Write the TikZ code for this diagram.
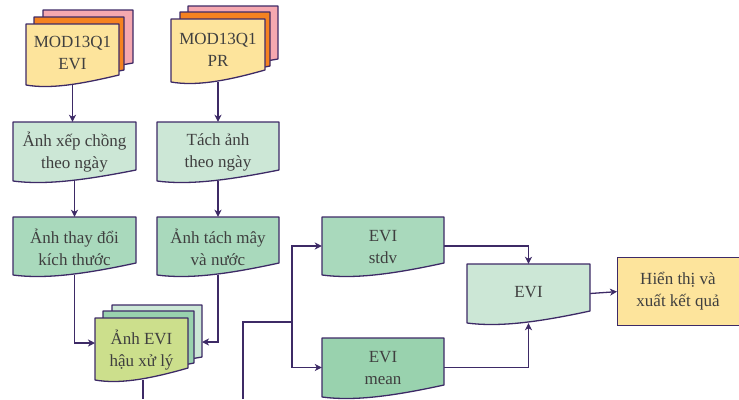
\documentclass[tikz,border=0pt]{standalone}
\usepackage{fontspec}
\setmainfont{Liberation Serif}
\usetikzlibrary{arrows.meta,fit}
\definecolor{bord}{HTML}{3D2A66}
\definecolor{txtc}{HTML}{3F3F3F}
\definecolor{yel}{HTML}{FDE49C}
\definecolor{ora}{HTML}{F58220}
\definecolor{pnk}{HTML}{F5A8B0}
\definecolor{lgreen}{HTML}{CCE7D6}
\definecolor{mgreen}{HTML}{A9D9BC}
\definecolor{dgreen}{HTML}{99D2AE}
\definecolor{lime}{HTML}{CCDF8C}
\pgfdeclarelayer{bg}\pgfsetlayers{bg,main}
\tikzset{
  docline/.style={draw=bord,line width=1.3pt,line join=round},
  lbl/.style={text=txtc,align=center,font=\fontsize{17}{22}\selectfont,inner sep=0pt},
  conn/.style={draw=bord,line width=1.3pt,-{Stealth[length=7pt,width=7pt,inset=2pt]}},
  plain/.style={draw=bord,line width=1.3pt}
}
% name, x0, y0, x1, y-right-bottom, y-left-bottom, fill
\newcommand\docbox[7]{%
  \filldraw[docline,fill=#7] (#2,#3) -- (#4,#3) -- (#4,#5)
    .. controls ({#2+0.55*(#4-#2)},{#6}) and ({#2+0.25*(#4-#2)},{#6+4}) .. (#2,#6) -- cycle;
  \node[fit={(#2,#3) (#4,#6)},inner sep=0pt] (#1) {};}
\begin{document}
\begin{tikzpicture}[x=1pt,y=-1pt]
\useasboundingbox (0,0) rectangle (739,399);
\clip (0,0) rectangle (739,399);
% MOD13Q1 EVI stack
\docbox{eviC}{43}{10}{133}{63}{70}{pnk}
\docbox{eviB}{34}{17}{124}{70}{78}{ora}
\docbox{evi}{26}{24}{119}{75}{85}{yel}
\node[lbl] (eviT) at ([yshift=2pt]evi.center) {MOD13Q1\\EVI};
% MOD13Q1 PR stack
\docbox{prC}{188}{6}{278}{59}{66}{pnk}
\docbox{prB}{180}{12}{270}{66}{74}{ora}
\docbox{pr}{171}{19}{265}{70}{82}{yel}
\node[lbl] (prT) at ([yshift=1pt]pr.center) {MOD13Q1\\PR};
% row 2
\docbox{xep}{13}{122}{136}{170}{181}{lgreen}
\node[lbl] (xepT) at ([yshift=-1pt]xep.center) {Ảnh xếp chồng\\theo ngày};
\docbox{tach}{157}{122}{279}{170}{181}{lgreen}
\node[lbl] (tachT) at ([yshift=-1pt]tach.center) {Tách ảnh\\theo ngày};
% row 3
\docbox{thay}{13}{217}{136}{263}{275}{mgreen}
\node[lbl] (thayT) at ([yshift=-1pt]thay.center) {Ảnh thay đổi\\kích thước};
\docbox{may}{157}{217}{279}{263}{275}{mgreen}
\node[lbl] (mayT) at ([yshift=-1pt]may.center) {Ảnh tách mây\\và nước};
% post-processed stack
\docbox{hauC}{112}{305}{202}{357}{364}{lgreen}
\docbox{hauB}{103}{311}{194}{363}{371}{dgreen}
\docbox{hau}{95}{318}{188}{368}{380}{lime}
\node[lbl] (hauT) at ([yshift=-1pt]hau.center) {Ảnh EVI\\hậu xử lý};
\coordinate (hauL) at (95,343);
\coordinate (hauR) at (202,342);
% EVI stdv / mean
\docbox{stdv}{322}{217}{444}{263}{275}{mgreen}
\node[lbl] (stdvT) at ([yshift=-1pt]stdv.center) {EVI\\stdv};
\docbox{mean}{322}{338}{444}{385}{397}{dgreen}
\node[lbl] (meanT) at ([yshift=-1pt]mean.center) {EVI\\mean};
\docbox{evr}{467}{264}{590}{311}{323}{lgreen}
\node[lbl] (evrT) at ([yshift=1pt]evr.center) {EVI};
% result
\node[draw=bord,line width=1.3pt,fill=yel,minimum width=129pt,minimum height=68pt,inner sep=0pt,anchor=north west] (res) at (617,257) {};
\node[lbl] (resT) at (678,291) {Hiển thị và\\xuất kết quả};
% connectors
\coordinate (j0) at (243,399);
\coordinate (j1) at (292,322);
\coordinate (hauOut) at (143,399);
\begin{pgfonlayer}{bg}
\draw[conn] (evi.south) -- (evi.south |- xep.north);
\draw[conn] (pr.south) -- (pr.south |- tach.north);
\draw[conn] (xep.south) -- (xep.south |- thay.north);
\draw[conn] (tach.south) -- (tach.south |- may.north);
\draw[conn] (thay.south) |- (hauL);
\draw[conn] (may.south) |- (hauR);
\draw[plain] (hau.south -| hauOut) -- (hauOut);
\draw[plain] (j0) |- (j1);
\draw[conn] (j1) |- (stdv.west);
\draw[conn] (j1) |- (mean.west);
\draw[conn] (stdv.east) -| (evr.north);
\draw[conn] (mean.east) -| (evr.south);
\draw[conn] (evr.east) -- (res.west);
\end{pgfonlayer}
\end{tikzpicture}
\end{document}
